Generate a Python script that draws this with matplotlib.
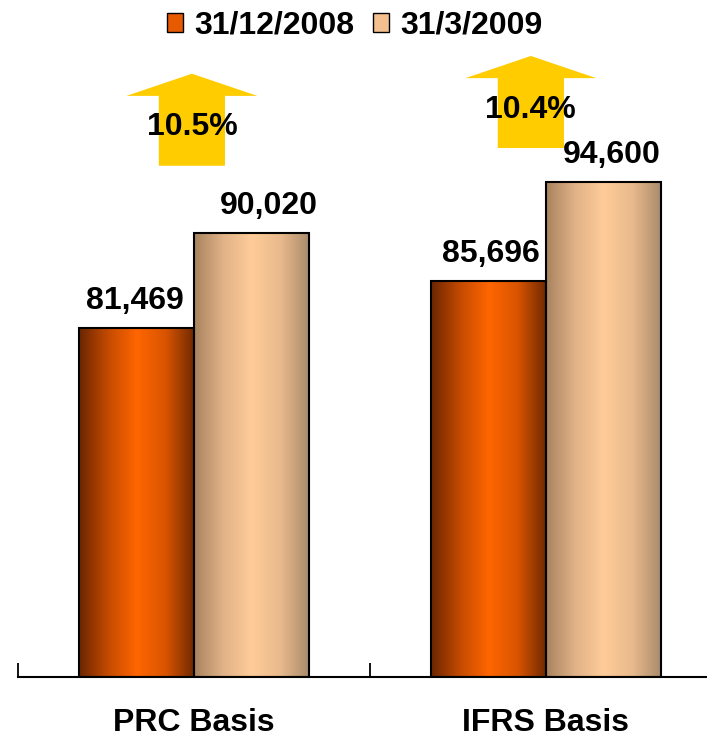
import matplotlib
matplotlib.use('Agg')
import matplotlib.pyplot as plt
import numpy as np
from matplotlib.colors import LinearSegmentedColormap
from matplotlib.patches import Patch, Polygon

# data
categories = ['PRC Basis', 'IFRS Basis']
series_names = ['31/12/2008', '31/3/2009']
values_2008 = [81469, 85696]
values_2009 = [90020, 94600]
growth_labels = ['10.5%', '10.4%']

plt.rcParams['font.family'] = ['Liberation Sans', 'DejaVu Sans']
plt.rcParams['font.weight'] = 'bold'
FS = 23
YMIN, YMAX = 50000, 110000

fig = plt.figure(figsize=(7.07, 7.37), dpi=100)
ax = fig.add_axes([18 / 707, 60 / 737, 704 / 707, 665.4 / 737])

x = np.arange(len(categories))
w = 0.327
grads = [
    LinearSegmentedColormap.from_list('dark', ['#6a2600', '#c44a00', '#ff6600', '#d85400', '#6e2800']),
    LinearSegmentedColormap.from_list('light', ['#a8835f', '#e0b287', '#ffcc99', '#e8b98c', '#a88a6a']),
]
solid = ['#e85a00', '#f5c090']
# small manual label nudges (pixels), as in the original slide
label_dx = [[-2, 2], [17, 8]]

for k, (vals, off) in enumerate([(values_2008, -w / 2), (values_2009, w / 2)]):
    vals = np.array(vals)
    bars = ax.bar(x + off, vals - YMIN, w, bottom=YMIN, facecolor='none',
                  edgecolor='black', linewidth=1.5, zorder=3)
    g = np.linspace(0, 1, 256).reshape(1, -1)
    for b in bars:
        bx, by = b.get_x(), b.get_y()
        im = ax.imshow(g, cmap=grads[k], aspect='auto', zorder=2,
                       extent=[bx, bx + b.get_width(), by, by + b.get_height()])
        im.set_clip_path(b)
    for j, (xi, v) in enumerate(zip(x + off, vals)):
        ax.annotate(f'{v:,}', (xi, v), xytext=(label_dx[k][j] * 0.72, 14),
                    textcoords='offset points', ha='center', va='baseline',
                    fontsize=FS, fontweight='bold')

# growth arrows above each group
arrow_base = [96100, 97700]   # shaft bottom
arrow_top = [104400, 106000]  # tip
arrow_dx = [-0.006, 0.957]
for i, lab in enumerate(growth_labels):
    cx = arrow_dx[i]
    y0, y1 = arrow_base[i], arrow_top[i]
    yh = y1 - 2000
    pts = [(cx - 0.094, y0), (cx + 0.094, y0), (cx + 0.094, yh), (cx + 0.186, yh),
           (cx, y1), (cx - 0.186, yh), (cx - 0.094, yh)]
    ax.add_patch(Polygon(pts, closed=True, facecolor='#ffcc00', edgecolor='none', zorder=1))
    ax.text(cx, y0 + 0.55 * (y1 - y0) - 1100, lab, ha='center', va='center',
            fontsize=FS, fontweight='bold', zorder=4)

ax.set_xlim(-0.5, 1.5)
ax.set_ylim(YMIN, YMAX)
for s in ['top', 'right', 'left']:
    ax.spines[s].set_visible(False)
ax.spines['bottom'].set_linewidth(1.5)
ax.spines['bottom'].set_zorder(4)
ax.set_yticks([])
ax.set_xticks(x, categories, fontsize=FS, fontweight='bold')
ax.tick_params(axis='x', which='major', length=0, pad=22)
ax.set_xticks([-0.5, 0.5, 1.5], minor=True)
ax.tick_params(axis='x', which='minor', length=10, width=1.3, direction='in')

handles = [Patch(facecolor=solid[0], edgecolor='black'), Patch(facecolor=solid[1], edgecolor='black')]
fig.legend(handles, series_names, loc='center', bbox_to_anchor=(0.502, 0.965), ncol=2,
           frameon=False, handlelength=0.5, handleheight=0.5,
           handletextpad=0.35, columnspacing=0.6, prop={'weight': 'bold', 'size': FS})

fig.savefig('out.png', dpi=100)
